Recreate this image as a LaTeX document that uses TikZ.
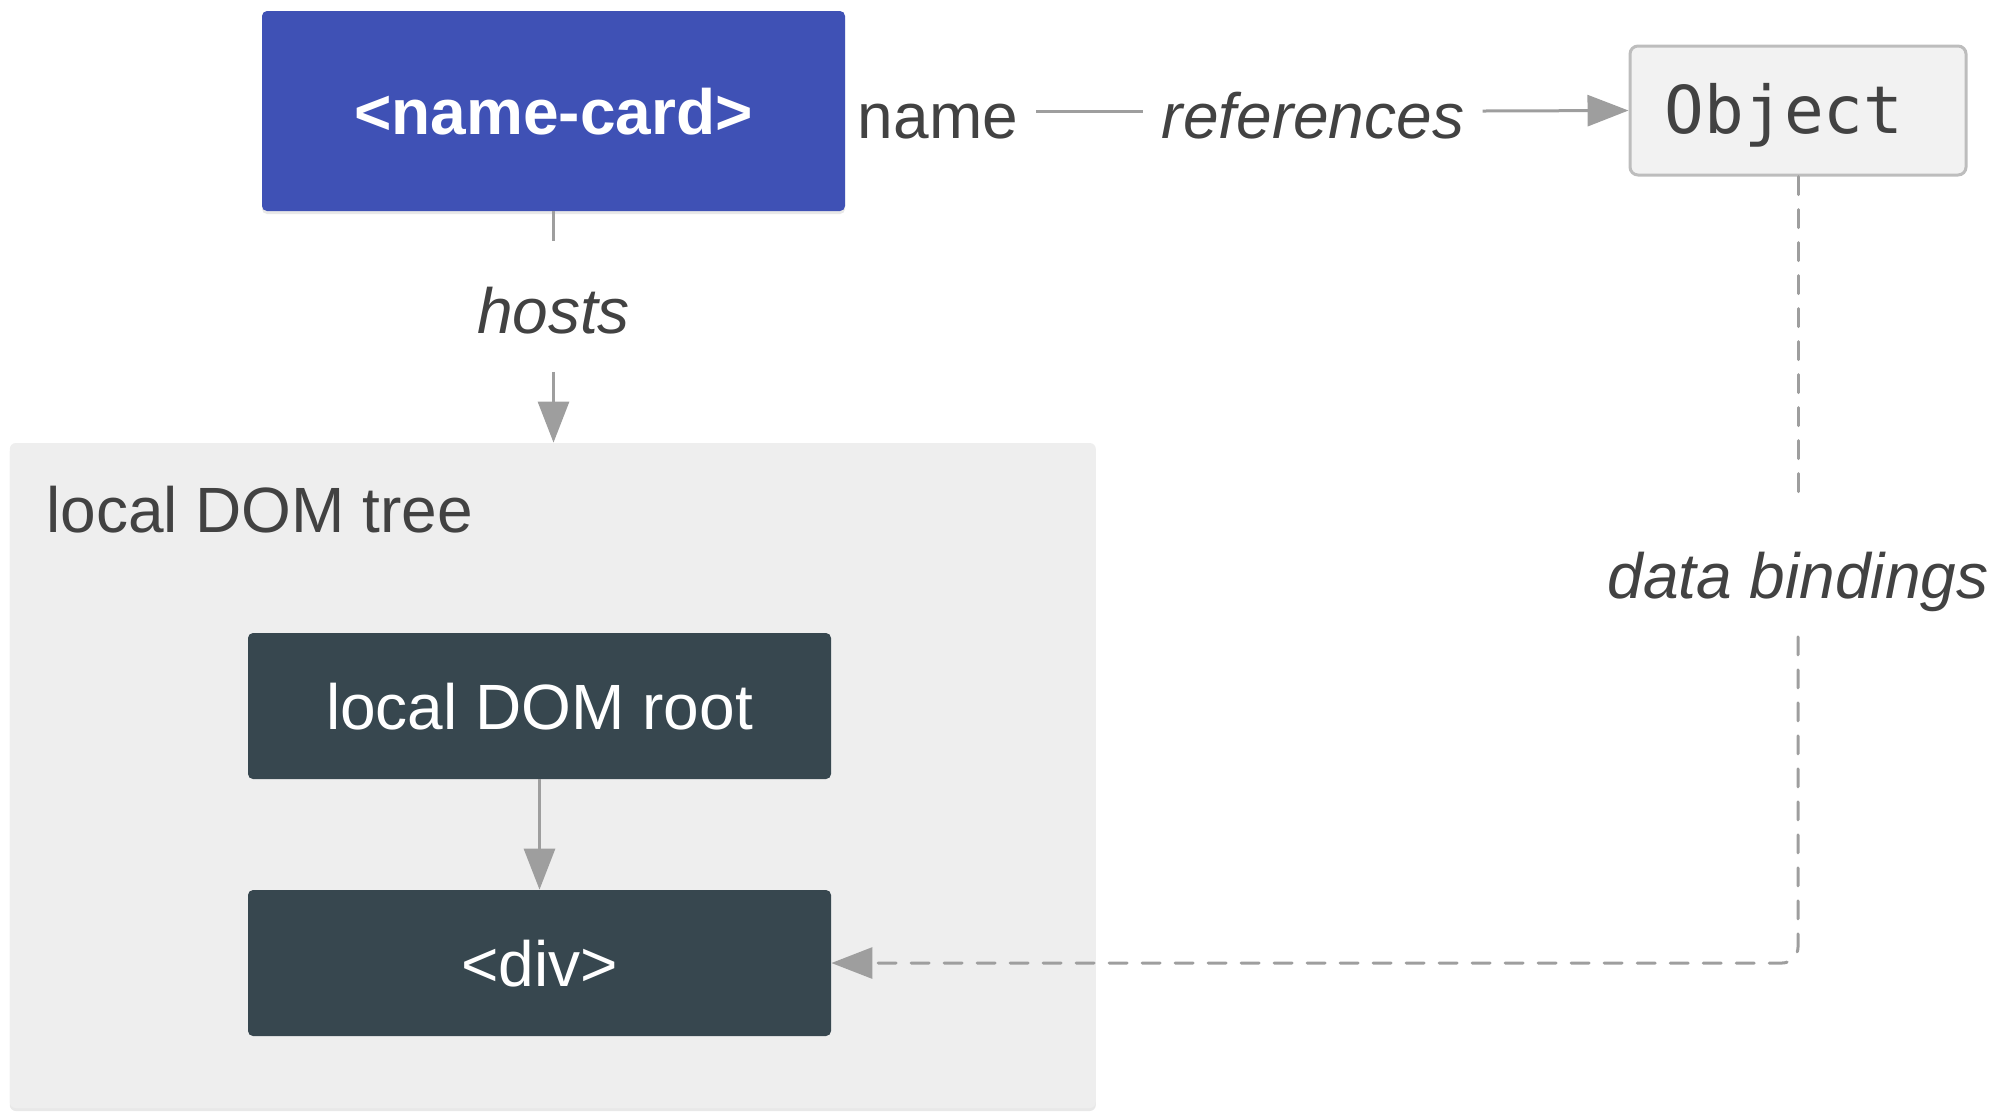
\documentclass[tikz,border=0pt]{standalone}
\usepackage{fontspec}
\setmainfont{Liberation Sans}
\setmonofont{DejaVu Sans Mono}
\usetikzlibrary{arrows.meta,shadows}
\definecolor{indigo}{HTML}{3F51B5}
\definecolor{slate}{HTML}{37474F}
\definecolor{panel}{HTML}{EEEEEE}
\definecolor{objfill}{HTML}{F2F2F2}
\definecolor{objline}{HTML}{BDBDBD}
\definecolor{conn}{HTML}{9E9E9E}
\definecolor{ink}{HTML}{424242}
\begin{document}
\begin{tikzpicture}[x=0.5pt,y=-0.5pt,
  every node/.style={font=\fontsize{32pt}{38pt}\selectfont},
  box/.style={rectangle, rounded corners=2.5pt, inner sep=0pt, text height=23pt, text depth=0pt, minimum width=291.5pt},
  darkbox/.style={box, fill=slate, text=white, minimum height=73pt},
  lbl/.style={inner xsep=9pt, inner ysep=19pt, text height=27pt, text depth=0pt, text=ink},
  conn/.style={draw=conn, line width=1.5pt},
  arr/.style={-{Triangle[length=20.5pt,width=15.5pt]}},
  dashline/.style={dash pattern=on 9pt off 7.5pt, line cap=round},
  shade/.style={drop shadow={opacity=0.18, shadow xshift=0pt, shadow yshift=-1.5pt}}
]
\useasboundingbox (0,0) rectangle (2016,1116);

% local DOM tree panel
\node[rectangle, rounded corners=3pt, fill=panel, minimum width=543pt, minimum height=332.5pt, inner sep=0pt, shade] (tree) at (552.8,775.5) {};
\node[anchor=base west, inner sep=0pt, text=ink] (treelbl) at (46,532) {local DOM tree};

% boxes
\node[box, fill=indigo, text=white, minimum height=100pt, font=\fontsize{32pt}{38pt}\selectfont\bfseries, shade] (nc) at (553.5,111) {<name-card>};
\node[box, fill=objfill, draw=objline, line width=1.5pt, rounded corners=4pt, minimum width=168pt, minimum height=64.5pt, text=ink, font=\fontsize{33pt}{38pt}\selectfont\ttfamily] (obj) at (1798,110.5) {Object\kern14pt\relax};
\node[darkbox] (root) at (539.5,706) {local DOM root};
\node[darkbox] (div) at (539.5,963) {<div>};

% labels
\node[lbl] (namelbl) at (938,111) {name};
\node[lbl, font=\fontsize{32pt}{38pt}\selectfont\itshape] (refs) at (1313,111) {references};
\node[lbl, font=\fontsize{32pt}{38pt}\selectfont\itshape] (hosts) at (553.5,306.5) {hosts};
\node[lbl, font=\fontsize{32pt}{38pt}\selectfont\itshape] (db) at (1798,571.5) {data bindings};

% connectors
\draw[conn] (nc.south) -- (hosts.north);
\draw[conn, arr] (hosts.south) -- (hosts.south |- tree.north);
\draw[conn] (namelbl.east) -- (refs.west);
\draw[conn, arr] (refs.east) -- (obj.west);
\draw[conn, arr] (root) -- (div);
\draw[conn, dashline] (obj.south) -- (db.north);
\draw[conn, dashline, arr, rounded corners=8pt] (db.south) |- (div.east);
\end{tikzpicture}
\end{document}
